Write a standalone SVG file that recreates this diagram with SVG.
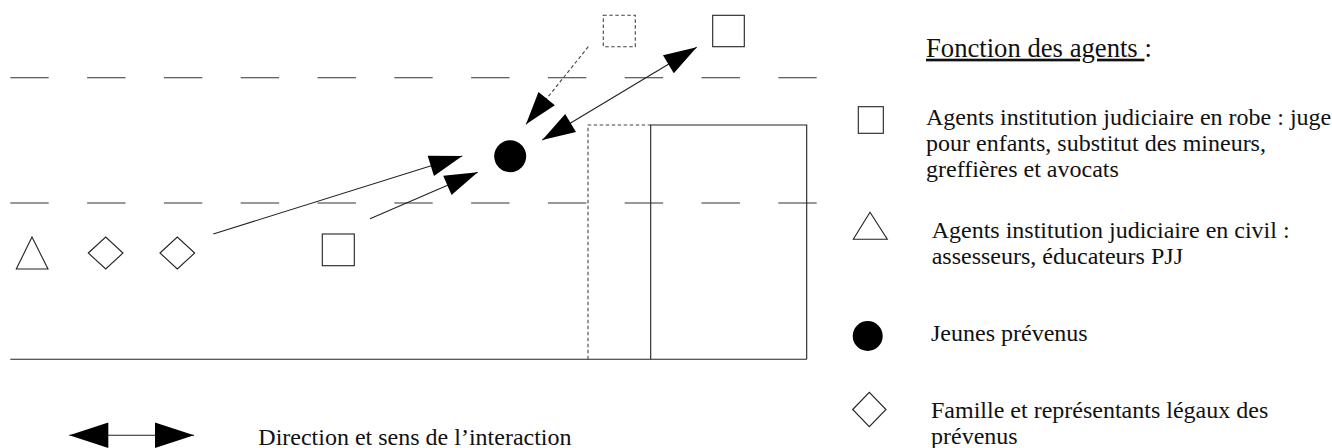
<svg xmlns="http://www.w3.org/2000/svg" width="1332" height="448" viewBox="0 0 1332 448">
<style>
.ln{stroke:#222;stroke-width:1.1;fill:none}
.dl{stroke:#333;stroke-width:1.1;fill:none;stroke-dasharray:38.4 38.4}
.dot{stroke:#444;stroke-width:1.1;fill:none;stroke-dasharray:3.5 2.5}
.sh{stroke:#222;stroke-width:1.1;fill:#fff}
.blk{fill:#000}
.t{font-family:"Liberation Serif","Times New Roman",serif;font-size:24px;fill:#111}
.h{font-family:"Liberation Serif","Times New Roman",serif;font-size:26.67px;fill:#111}
</style>
<defs>
<marker id="ah" markerUnits="userSpaceOnUse" markerWidth="34" markerHeight="22" refX="33" refY="10.5" orient="auto-start-reverse" overflow="visible">
<path d="M0,0 L33,10.5 L0,21 Z" fill="#000"/>
</marker>
<marker id="ahL" markerUnits="userSpaceOnUse" markerWidth="40" markerHeight="26" refX="39" refY="12.7" orient="auto-start-reverse" overflow="visible">
<path d="M0,0 L39,12.7 L0,25.4 Z" fill="#000"/>
</marker>
</defs>
<rect width="1332" height="448" fill="#fff"/>
<g id="scene">
<line class="dl" x1="10.3" y1="77.7" x2="816.7" y2="77.7"/>
<line class="dl" x1="10.3" y1="203" x2="816.7" y2="203"/>
<line class="ln" x1="10.3" y1="359.3" x2="806.7" y2="359.3"/>
<path class="dot" d="M588,359.3 V125 H650.7"/>
<path class="ln" d="M650.7,359.3 V125 H806.7 V359.3"/>
</g>
<g id="connectors">
<line class="ln" x1="213.3" y1="234" x2="462.3" y2="156" marker-end="url(#ah)"/>
<line class="ln" x1="370" y1="218.7" x2="477.7" y2="172.3" marker-end="url(#ah)"/>
<line class="dot" x1="588.3" y1="46.7" x2="526" y2="124.3" marker-end="url(#ah)"/>
<line class="ln" x1="542.3" y1="140" x2="696.7" y2="47.3" marker-start="url(#ah)" marker-end="url(#ah)"/>
</g>
<g id="triangle1"><polygon class="sh" points="32,237 16.3,269 48,269"/></g>
<g id="diamond1"><polygon class="sh" points="88.3,253 105.7,237 123,253 105.7,269"/></g>
<g id="diamond2"><polygon class="sh" points="160,253 177.3,237 194.7,253 177.3,269"/></g>
<g id="square1"><rect class="sh" x="322.3" y="234" width="32" height="31.7"/></g>
<g id="circle1"><circle class="blk" cx="510.2" cy="156.2" r="16"/></g>
<g id="square-dashed"><rect class="dot" x="603.3" y="15.3" width="32" height="31.4"/></g>
<g id="square2"><rect class="sh" x="712.7" y="15.3" width="31.6" height="31.4"/></g>
<g id="legend">
<text class="h" x="926" y="56.7"><tspan text-decoration="underline">Fonction des agents </tspan>:</text>
<rect class="sh" x="858.3" y="106.7" width="25" height="26.6"/>
<text class="t" x="926" y="124.5">Agents institution judiciaire en robe : juge</text>
<text class="t" x="926" y="150.5">pour enfants, substitut des mineurs,</text>
<text class="t" x="926" y="176.5">greffières et avocats</text>
<polygon class="sh" points="870,212.3 853.3,239.3 887.3,239.3"/>
<text class="t" x="931.7" y="238.3">Agents institution judiciaire en civil :</text>
<text class="t" x="931.7" y="264">assesseurs, éducateurs PJJ</text>
<circle class="blk" cx="867.7" cy="336" r="15"/>
<text class="t" x="931" y="341">Jeunes prévenus</text>
<polygon class="sh" points="852.7,409.5 869.3,392.3 886,409.5 869.3,426.7"/>
<text class="t" x="931" y="417.7">Famille et représentants légaux des</text>
<text class="t" x="931" y="444">prévenus</text>
<line class="ln" x1="69.3" y1="435.3" x2="194" y2="435.3" marker-start="url(#ahL)" marker-end="url(#ahL)"/>
<text class="t" x="258.3" y="445">Direction et sens de l’interaction</text>
</g>
</svg>
